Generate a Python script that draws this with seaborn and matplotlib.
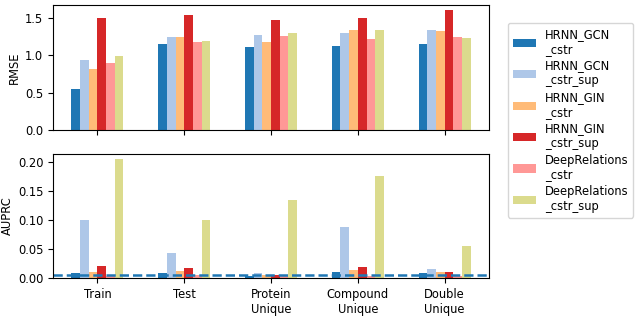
import numpy as np
import pandas as pd
import matplotlib
matplotlib.use("Agg")
import matplotlib.pyplot as plt
import seaborn as sns

categories = ["Train", "Test", "Protein\nUnique", "Compound\nUnique", "Double\nUnique"]
models = ["HRNN_GCN\n_cstr", "HRNN_GCN\n_cstr_sup", "HRNN_GIN\n_cstr",
          "HRNN_GIN\n_cstr_sup", "DeepRelations\n_cstr", "DeepRelations\n_cstr_sup"]

rmse_gcn_cstr = [0.55, 1.15, 1.11, 1.12, 1.15]
rmse_gcn_cstr_sup = [0.94, 1.24, 1.27, 1.29, 1.33]
rmse_gin_cstr = [0.82, 1.24, 1.17, 1.33, 1.32]
rmse_gin_cstr_sup = [1.495, 1.54, 1.47, 1.495, 1.60]
rmse_dr_cstr = [0.89, 1.17, 1.25, 1.21, 1.24]
rmse_dr_cstr_sup = [0.99, 1.19, 1.30, 1.34, 1.23]

auprc_gcn_cstr = [0.008, 0.009, 0.004, 0.010, 0.009]
auprc_gcn_cstr_sup = [0.101, 0.044, 0.008, 0.088, 0.016]
auprc_gin_cstr = [0.010, 0.012, 0.005, 0.014, 0.010]
auprc_gin_cstr_sup = [0.021, 0.017, 0.006, 0.0185, 0.010]
auprc_dr_cstr = [0.004, 0.005, 0.006, 0.003, 0.004]
auprc_dr_cstr_sup = [0.205, 0.0997, 0.135, 0.176, 0.056]

baseline = 0.005

palette = ["#1f77b4", "#aec7e8", "#ffbb78", "#d62728", "#ff9896", "#dbdb8d"]

rmse_series = [rmse_gcn_cstr, rmse_gcn_cstr_sup, rmse_gin_cstr,
               rmse_gin_cstr_sup, rmse_dr_cstr, rmse_dr_cstr_sup]
auprc_series = [auprc_gcn_cstr, auprc_gcn_cstr_sup, auprc_gin_cstr,
                auprc_gin_cstr_sup, auprc_dr_cstr, auprc_dr_cstr_sup]

rows = []
for m, rs, au in zip(models, rmse_series, auprc_series):
    for c, r, a in zip(categories, rs, au):
        rows.append({"split": c, "model": m, "RMSE": r, "AUPRC": a})
df = pd.DataFrame(rows)

plt.rcParams["font.family"] = ["DejaVu Sans"]
plt.rcParams["font.size"] = 8.3

fig = plt.figure(figsize=(6.4, 3.16), dpi=100)
ax1 = fig.add_axes([0.083, 0.589, 0.681, 0.395])
ax2 = fig.add_axes([0.083, 0.120, 0.681, 0.393])

for ax, col in [(ax1, "RMSE"), (ax2, "AUPRC")]:
    sns.barplot(data=df, x="split", y=col, hue="model", hue_order=models,
                order=categories, palette=palette, saturation=1, width=0.6,
                ax=ax, errorbar=None, linewidth=0)
    ax.set_xlabel("")
    ax.set_ylabel(col, fontsize=8.3, labelpad=3)
    ax.set_xlim(-0.51, 4.51)
    ax.tick_params(labelsize=8.3)
    ax.get_legend().remove()

ax1.set_xticklabels([])
ax1.set_yticks([0.0, 0.5, 1.0, 1.5])
ax1.set_ylim(0, 1.67)
ax2.set_yticks([0.0, 0.05, 0.10, 0.15, 0.20])
ax2.set_ylim(0, 0.2143)
ax2.axhline(baseline, color="#1f77b4", linestyle="--", linewidth=1.8)

handles, labels = ax1.get_legend_handles_labels()
fig.legend(handles, labels, loc="upper left", bbox_to_anchor=(0.794, 0.927),
           borderaxespad=0, fontsize=8.3, frameon=True, labelspacing=0.3)

fig.savefig("out.png", dpi=100)
